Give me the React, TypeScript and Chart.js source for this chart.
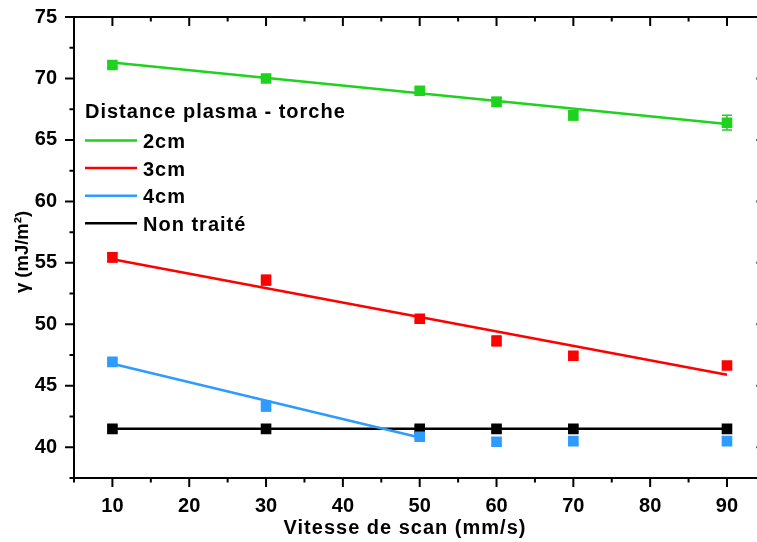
import React, { useEffect, useRef } from 'react';
import { Chart, registerables } from 'chart.js';

Chart.register(...registerables);

// ---------- data ----------
const speeds = [10, 30, 50, 60, 70, 90];

const gamma2cm = [71.1, 70.0, 69.0, 68.1, 67.0, 66.4];
const err2cm = [0.2, 0.3, 0.2, 0.35, 0.35, 0.6];
const gamma3cm = [55.45, 53.6, 50.45, 48.65, 47.45, 46.65];
const err3cm = [0.35, 0.4, 0.2, 0.4, 0.2, 0.2];
const gamma4cm = [46.95, 43.35, 40.85, 40.45, 40.5, 40.5];
const err4cm = [0.2, 0.4, 0.2, 0.3, 0.25, 0.25];
const gammaNT = [41.5, 41.5, 41.5, 41.5, 41.5, 41.5];
const errNT = [0.25, 0.25, 0.25, 0.25, 0.25, 0.25];

// linear fits (end points)
const fit2cmX = [10, 90];
const fit2cmY = [71.3, 66.3];
const fit3cmX = [10, 90];
const fit3cmY = [55.3, 45.9];
const fit4cmX = [10, 50];
const fit4cmY = [46.8, 40.8];
const fitNTX = [10, 90];
const fitNTY = [41.5, 41.5];

const seriesLabels = ['2cm', '3cm', '4cm', 'Non traité'];
const legendTitle = 'Distance plasma - torche';
const xTitle = 'Vitesse de scan (mm/s)';
const yTitle = 'γ (mJ/m²)';
const xTickLabels = ['10', '20', '30', '40', '50', '60', '70', '80', '90'];
const yTickLabels = ['40', '45', '50', '55', '60', '65', '70', '75'];

// ---------- styles ----------
const COLORS = ['#1ed21e', '#ff0000', '#2e9bff', '#000000'];
const FONT = "'Liberation Sans', Arial, sans-serif";

const pts = (xs: number[], ys: number[]) => xs.map((x, i) => ({ x, y: ys[i] }));

export default function App() {
  const ref = useRef<HTMLCanvasElement | null>(null);

  useEffect(() => {
    if (!ref.current) return;

    const pointSets = [
      { label: seriesLabels[0], y: gamma2cm, e: err2cm },
      { label: seriesLabels[1], y: gamma3cm, e: err3cm },
      { label: seriesLabels[2], y: gamma4cm, e: err4cm },
      { label: seriesLabels[3], y: gammaNT, e: errNT },
    ];
    const fitSets = [
      { x: fit2cmX, y: fit2cmY },
      { x: fit3cmX, y: fit3cmY },
      { x: fit4cmX, y: fit4cmY },
      { x: fitNTX, y: fitNTY },
    ];

    const datasets: any[] = [];
    pointSets.forEach((s, i) => {
      datasets.push({
        label: s.label,
        data: pts(speeds, s.y),
        errors: s.e,
        isPoints: true,
        showLine: false,
        pointStyle: 'rect',
        pointRadius: 7.5,
        pointHoverRadius: 7.5,
        backgroundColor: COLORS[i],
        borderColor: COLORS[i],
        borderWidth: 0,
        order: 1,
      });
    });
    fitSets.forEach((f, i) => {
      datasets.push({
        label: seriesLabels[i] + ' fit',
        data: pts(f.x, f.y),
        isFit: true,
        legendLabel: seriesLabels[i],
        showLine: true,
        pointRadius: 0,
        borderColor: COLORS[i],
        backgroundColor: COLORS[i],
        borderWidth: 2.5,
        fill: false,
        order: 2,
      });
    });

    const originPlugin = {
      id: 'originStyle',
      beforeDatasetsDraw(chart: any) {
        const ctx = chart.ctx;
        const ys = chart.scales.y;
        ctx.save();
        chart.data.datasets.forEach((ds: any, di: number) => {
          if (!ds.isPoints) return;
          const meta = chart.getDatasetMeta(di);
          ctx.strokeStyle = ds.borderColor;
          ctx.lineWidth = 1.5;
          meta.data.forEach((el: any, i: number) => {
            const v = ds.data[i].y;
            const e = ds.errors[i];
            const top = ys.getPixelForValue(v + e);
            const bot = ys.getPixelForValue(v - e);
            const x = el.x;
            ctx.beginPath();
            ctx.moveTo(x, top);
            ctx.lineTo(x, bot);
            ctx.moveTo(x - 5, top);
            ctx.lineTo(x + 5, top);
            ctx.moveTo(x - 5, bot);
            ctx.lineTo(x + 5, bot);
            ctx.stroke();
          });
        });
        ctx.restore();
      },
      afterDraw(chart: any) {
        const ctx = chart.ctx;
        const { left, right, top, bottom } = chart.chartArea;
        const xs = chart.scales.x;
        const ys = chart.scales.y;
        ctx.save();
        ctx.strokeStyle = '#000';
        ctx.lineWidth = 2;
        ctx.lineCap = 'butt';
        // frame
        ctx.beginPath();
        ctx.rect(left, top, right - left, bottom - top);
        ctx.stroke();
        // x ticks
        xs.ticks.forEach((t: any) => {
          const p = xs.getPixelForValue(t.value);
          const major = Math.abs(t.value % 10) < 1e-6;
          const len = major ? 9 : 4.5;
          ctx.beginPath();
          ctx.moveTo(p, bottom);
          ctx.lineTo(p, bottom + len);
          ctx.moveTo(p, top);
          ctx.lineTo(p, top + len);
          ctx.stroke();
        });
        // y ticks
        ys.ticks.forEach((t: any) => {
          const p = ys.getPixelForValue(t.value);
          const major = Math.abs(t.value % 5) < 1e-6;
          const len = major ? 9 : 4.5;
          ctx.beginPath();
          ctx.moveTo(left, p);
          ctx.lineTo(left - len, p);
          ctx.moveTo(right, p);
          ctx.lineTo(right - len, p);
          ctx.stroke();
        });

        // axis titles
        ctx.fillStyle = '#000';
        (ctx as any).letterSpacing = '1px';
        ctx.font = `bold 20px ${FONT}`;
        ctx.textAlign = 'center';
        ctx.textBaseline = 'alphabetic';
        ctx.fillText(xTitle, 405, 534);
        (ctx as any).letterSpacing = '0px';
        ctx.save();
        ctx.translate(23, 252);
        ctx.rotate(-Math.PI / 2);
        ctx.font = `bold 18.5px ${FONT}`;
        ctx.textBaseline = 'middle';
        ctx.fillText(yTitle, 0, 0);
        ctx.restore();

        // legend
        (ctx as any).letterSpacing = '1px';
        ctx.textAlign = 'left';
        ctx.textBaseline = 'alphabetic';
        ctx.font = `bold 20px ${FONT}`;
        ctx.fillText(legendTitle, 85, 117.5);
        const fits = chart.data.datasets.filter((d: any) => d.isFit);
        fits.forEach((d: any, i: number) => {
          const base = 148 + i * 27.6;
          const ly = base - 7.5;
          ctx.strokeStyle = d.borderColor;
          ctx.lineWidth = 2.5;
          ctx.beginPath();
          ctx.moveTo(85, ly);
          ctx.lineTo(137, ly);
          ctx.stroke();
          ctx.fillStyle = '#000';
          ctx.fillText(d.legendLabel, 143, base);
        });
        (ctx as any).letterSpacing = '0px';
        ctx.restore();
      },
    };

    const chart = new Chart(ref.current, {
      type: 'scatter',
      data: { datasets },
      options: {
        animation: false,
        responsive: false,
        maintainAspectRatio: false,
        layout: {
          autoPadding: false,
          padding: { top: 17, right: 24.6, bottom: 0, left: 0 },
        },
        plugins: {
          legend: { display: false },
          tooltip: { enabled: false },
          title: { display: false },
        },
        scales: {
          x: {
            type: 'linear',
            min: 5,
            max: 95,
            grid: { display: false, drawTicks: false },
            border: { display: false },
            ticks: {
              stepSize: 5,
              autoSkip: false,
              maxRotation: 0,
              padding: 16,
              color: '#000',
              font: { family: FONT, size: 20, weight: 'bold' },
              callback: (v: any) => {
                const s = String(v);
                return xTickLabels.includes(s) ? s : '';
              },
            },
            afterFit: (scale: any) => {
              scale.height = 64;
              scale.paddingLeft = 0;
              scale.paddingRight = 0;
            },
          },
          y: {
            type: 'linear',
            min: 37.5,
            max: 75,
            grid: { display: false, drawTicks: false },
            border: { display: false },
            ticks: {
              stepSize: 2.5,
              autoSkip: false,
              padding: 17,
              color: '#000',
              font: { family: FONT, size: 20, weight: 'bold' },
              callback: (v: any) => {
                const s = String(v);
                return yTickLabels.includes(s) ? s : '';
              },
            },
            afterFit: (scale: any) => {
              scale.width = 74;
              scale.paddingTop = 0;
              scale.paddingBottom = 0;
            },
          },
        },
      } as any,
      plugins: [originPlugin],
    });

    return () => chart.destroy();
  }, []);

  return (
    <div
      style={{
        position: 'fixed',
        left: 0,
        top: 0,
        width: 757,
        height: 542,
        overflow: 'hidden',
        background: '#fff',
      }}
    >
      <canvas ref={ref} width={790} height={542} style={{ width: 790, height: 542, display: 'block' }} />
    </div>
  );
}
